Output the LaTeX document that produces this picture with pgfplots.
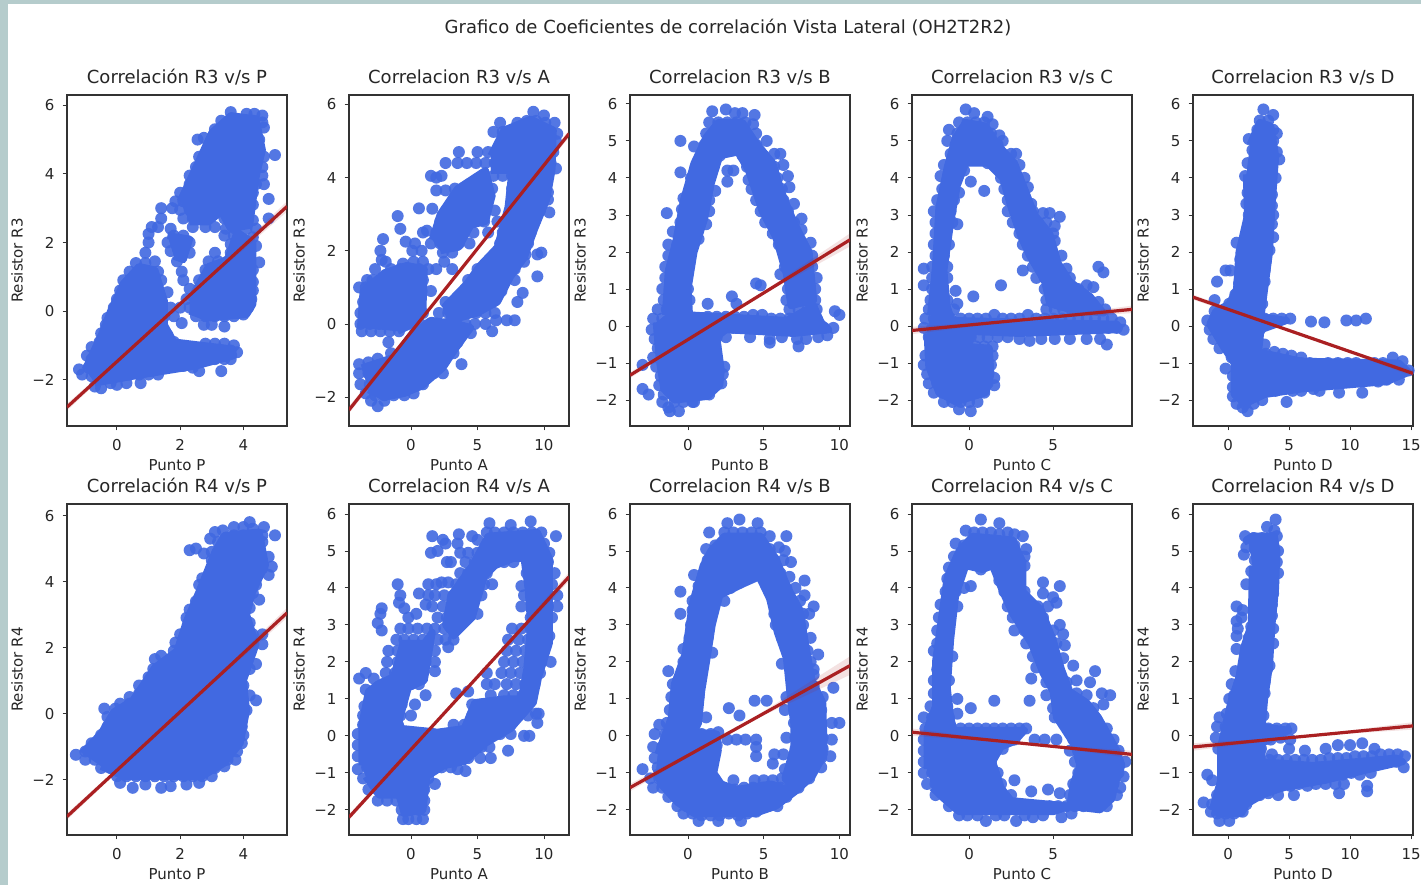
\documentclass[border=0pt]{standalone}
\usepackage{fontspec}
\setmainfont{DejaVu Sans}
\usepackage{pgfplots}
\pgfplotsset{compat=1.18}
\definecolor{royal}{RGB}{65,105,225}
\definecolor{fbrick}{RGB}{170,32,34}
\definecolor{edge}{RGB}{181,204,204}
\definecolor{txt}{RGB}{38,38,38}
\pgfplotsset{
 every axis title shift=0pt,
 every axis/.append style={scale only axis,width=110pt,height=165.5pt,anchor=south west,clip mode=individual,
  axis line style={draw=black!80,line width=0.55pt},
  tick style={draw=black!80,line width=0.45pt},
  major tick length=2.2pt,tick align=outside,xtick pos=bottom,ytick pos=left,
  tick label style={font=\fontsize{7.5}{9}\selectfont,text=txt},
  xticklabel style={yshift=-1pt},yticklabel style={xshift=-0.5pt},
  title style={font=\fontsize{9}{11}\selectfont,text=txt,at={(axis description cs:0.5,1.054)},anchor=center},
  every axis x label/.style={at={(axis description cs:0.5,-0.118)},anchor=center,font=\fontsize{7.5}{9}\selectfont,text=txt},
  every axis y label/.style={at={(axis description cs:-0.227,0.5)},rotate=90,anchor=center,font=\fontsize{7.5}{9}\selectfont,text=txt},
 },
 pts/.style={only marks,color=royal,mark=*,mark size=3pt,mark options={solid,draw=none,draw opacity=0,line width=0pt,fill=royal,fill opacity=0.9}},
 blob/.style={no marks,draw=royal,line width=3.5pt,line join=round,fill=royal},
 fit/.style={no marks,draw=fbrick,line width=1.6pt},
 band/.style={no marks,draw=none,fill=fbrick,fill opacity=0.13},
}
\begin{document}
\begin{tikzpicture}[x=1pt,y=1pt]
\useasboundingbox (0,0) rectangle (710.5,442.5);
\fill[white] (0,0) rectangle (710.5,442.5);
\fill[edge] (0,0) rectangle (4,442.5);
\fill[edge] (0,440.5) rectangle (710.5,442.5);
\node[font=\fontsize{9}{11}\selectfont,text=txt] at (364,429) {Grafico de Coeficientes de correlación Vista Lateral (OH2T2R2)};

% R3 v P
\begin{axis}[at={(33.5pt,229.5pt)},title={Correlación R3 v/s P},xlabel={Punto P},ylabel={Resistor R3},
 xmin=-1.58,xmax=5.38,ymin=-3.35,ymax=6.3,xtick={0,2,4},xticklabels={0,2,4},ytick={-2,0,2,4,6},yticklabels={−2,0,2,4,6}]
\addplot[blob] coordinates {(-1,-1.7)(-.5,-.7)(-.2,0)(.2,.8)(.7,1.3)(1.2,1.2)(1.5,.3)(1.5,-.4)(1.8,-.9)(3.6,-1.1)(3.7,-1.3)(2.5,-1.6)(.5,-1.9)(-.7,-2.1)};
\addplot[blob] coordinates {(2.3,.3)(2.9,1.3)(3.5,1.5)(3.8,2.3)(4.3,2)(4.3,.2)(4.1,-.1)(2.9,-.2)(2.3,0)};
\addplot[blob] coordinates {(2,3.2)(2.6,4.4)(3,5.2)(3.6,5.7)(4.4,5.6)(4.6,4.7)(4.4,3.9)(4.2,2.5)(3.6,2.4)(3.3,2.9)(2.9,2.6)(2.3,2.6)};
\addplot[blob] coordinates {(1.6,2.2)(2.3,2.1)(2.1,1.5)(1.8,1.6)};
\addplot[pts] coordinates {(3.6,5.8)(4.1,5.75)(4.35,5.75)(4.6,5.7)(3.3,5.55)(3.6,5.55)(4,5.55)(4.3,5.55)(4.6,5.5)(3.1,5.3)(3.4,5.3)(3.7,5.3)(4,5.3)(4.3,5.3)(4.65,5.35)(2.55,5)(2.75,5.05)(3,5)(3.3,5)(3.6,5)(3.9,5)(4.2,5)(4.5,5)(3,4.75)(3.3,4.75)(3.6,4.75)(3.9,4.75)(4.2,4.75)(4.5,4.75)(2.6,4.5)(2.9,4.5)(3.2,4.5)(3.5,4.5)(3.8,4.5)(4.1,4.5)(4.4,4.5)(4.65,4.5)(5,4.55)(2.5,4.2)(2.8,4.2)(3.1,4.2)(3.4,4.2)(3.7,4.2)(4,4.2)(4.6,4.2)(2.3,3.95)(2.6,3.95)(2.9,3.95)(3.2,3.95)(3.5,3.95)(3.8,3.95)(4.1,3.9)(4.6,3.95)(2.3,3.7)(2.6,3.7)(2.9,3.7)(3.2,3.7)(3.5,3.7)(3.8,3.7)(4.4,3.7)(4.65,3.7)(2,3.45)(2.3,3.45)(2.6,3.45)(2.9,3.45)(3.15,3.45)(3.65,3.4)(3.95,3.4)(4.3,3.45)(1.85,3.2)(2.1,3.2)(2.4,3.2)(2.7,3.2)(3,3.2)(3.3,3.2)(3.7,3.1)(4,3.1)(4.3,3.1)(4.8,3.27)(1.4,3)(1.75,3)(2,2.95)(2.3,2.95)(2.6,2.95)(2.9,2.95)(3.2,2.95)(3.5,2.9)(3.8,2.9)(4.1,2.85)(1.4,2.7)(2.1,2.7)(2.4,2.7)(2.7,2.7)(3.4,2.7)(3.7,2.7)(4,2.6)(4.3,2.65)(4.8,2.7)(1.1,2.45)(1.3,2.45)(1.7,2.4)(2.4,2.45)(2.8,2.45)(3.1,2.45)(3.45,2.4)(3.75,2.4)(4.1,2.4)(4.4,2.4)(1,2.25)(1.8,2.2)(2.1,2.2)(3.4,2.2)(3.7,2.2)(4.3,2.15)(1,2)(1.6,2)(1.9,2)(2.3,2)(3.6,1.95)(3.9,1.95)(4.4,1.9)(.9,1.7)(1.7,1.75)(2,1.75)(2.3,1.7)(3.1,1.7)(3.6,1.7)(3.9,1.65)(4.2,1.7)(.6,1.4)(.9,1.4)(1.2,1.45)(1.9,1.45)(2.9,1.45)(3.2,1.45)(3.5,1.45)(3.8,1.45)(4.1,1.4)(4.5,1.42)(.4,1.15)(.7,1.15)(1,1.15)(1.3,1.15)(2.05,1.15)(2.8,1.2)(3.1,1.15)(3.4,1.15)(3.7,1.15)(4,1.15)(4.3,1.2)(.2,.9)(.5,.9)(.8,.9)(1.1,.9)(1.4,.9)(2.1,.9)(2.6,.9)(2.9,.9)(3.2,.9)(3.5,.9)(3.8,.9)(4.1,.9)(4.3,.85)(.1,.6)(.4,.6)(.7,.6)(1,.6)(1.3,.6)(1.6,.55)(2.3,.65)(2.6,.6)(2.9,.6)(3.2,.6)(3.5,.6)(3.8,.6)(4.1,.6)(4.3,.6)(0,.35)(.3,.35)(.6,.35)(.9,.35)(1.2,.35)(2.2,.35)(2.5,.35)(2.8,.35)(3.1,.35)(3.4,.35)(3.7,.35)(4,.35)(4.25,.35)(-.1,.1)(.2,.1)(.5,.1)(.8,.1)(1.1,.1)(1.4,.1)(1.7,.1)(2,.1)(2.3,.1)(2.6,.1)(2.9,.1)(3.2,.1)(3.5,.1)(3.8,.1)(4.15,.1)(-.3,-.2)(0,-.15)(.3,-.15)(.6,-.15)(.9,-.15)(1.2,-.15)(1.5,-.15)(1.8,-.15)(2.5,-.15)(2.8,-.15)(3.1,-.15)(3.4,-.15)(3.7,-.15)(4,-.1)(-.35,-.4)(-.1,-.4)(.2,-.4)(.5,-.4)(.8,-.4)(1.1,-.4)(1.4,-.4)(2.05,-.35)(2.75,-.4)(3,-.4)(3.4,-.45)(-.5,-.65)(-.2,-.65)(.1,-.65)(.4,-.65)(.7,-.65)(1,-.65)(1.3,-.65)(1.6,-.7)(-.55,-.9)(-.3,-.9)(0,-.9)(.3,-.9)(.6,-.9)(.9,-.9)(1.2,-.9)(1.5,-.9)(1.8,-.9)(2.8,-.95)(3.1,-.95)(3.4,-.95)(3.7,-1)(-.8,-1.05)(-.95,-1.3)(-.6,-1.15)(-.3,-1.15)(0,-1.15)(.3,-1.15)(.6,-1.15)(.9,-1.15)(1.2,-1.15)(1.5,-1.15)(1.8,-1.15)(2.1,-1.15)(2.4,-1.15)(2.7,-1.15)(3,-1.15)(3.3,-1.15)(3.6,-1.15)(3.8,-1.2)(-.8,-1.4)(-.5,-1.4)(-.2,-1.4)(.1,-1.4)(.4,-1.4)(.7,-1.4)(1,-1.4)(1.3,-1.4)(1.6,-1.4)(1.9,-1.4)(2.2,-1.4)(2.5,-1.4)(2.8,-1.4)(3.1,-1.4)(3.4,-1.4)(3.6,-1.4)(-1.2,-1.7)(-.9,-1.65)(-.6,-1.65)(-.3,-1.65)(0,-1.65)(.3,-1.65)(.6,-1.65)(.9,-1.65)(1.2,-1.65)(1.5,-1.65)(1.8,-1.6)(2.1,-1.6)(2.4,-1.65)(2.6,-1.75)(3.3,-1.75)(-1.1,-1.85)(-.8,-1.9)(-.5,-1.9)(-.2,-1.9)(.1,-1.9)(.4,-1.85)(.7,-1.85)(1,-1.85)(1.3,-1.85)(-.7,-2.2)(-.5,-2.25)(-.2,-2.1)(0,-2.15)(.3,-2.1)(.75,-2.1)};
\addplot[band] coordinates {(-1.58,-2.7)(1.9,.1)(5.38,3.2)(5.38,2.9)(1.9,.1)(-1.58,-2.9)};
\addplot[fit] coordinates {(-1.58,-2.8)(5.38,3.05)};
\end{axis}

% R3 v A
\begin{axis}[at={(174.5pt,229.5pt)},title={Correlacion R3 v/s A},xlabel={Punto A},ylabel={Resistor R3},
 xmin=-4.66,xmax=11.88,ymin=-2.79,ymax=6.26,xtick={0,5,10},xticklabels={0,5,10},ytick={-2,0,2,4,6},yticklabels={−2,0,2,4,6}]
\addplot[blob] coordinates {(-3.8,-.1)(-3.6,.9)(-2,1.4)(-.3,1.6)(1,1.5)(.9,.4)(.2,0)(-1,-.2)};
\addplot[blob] coordinates {(-3.7,-1.2)(-2,-1)(-1.2,-.9)(0,-.3)(1.5,.1)(3.5,0)(4.5,-.1)(3.3,-.7)(2.4,-1.2)(.8,-1.7)(-.5,-1.9)(-2,-2)(-3.2,-1.8)};
\addplot[blob] coordinates {(6,4.6)(7,5.3)(9,5.6)(10.7,5.3)(10.6,4.2)(10.2,3.4)(9.3,2.6)(8.5,1.8)(7.5,1.3)(6.5,.6)(5,.3)(3,.1)(2.6,.5)(4.2,1.1)(5.2,1.6)(6.5,2.1)(7.3,3.2)(7.6,4.2)(6,4.2)};
\addplot[blob] coordinates {(1.6,2.3)(2.2,3)(3.5,3.7)(5.6,4.2)(6.1,3.5)(5.6,2.8)(4.5,2.7)(3.6,2.1)(2.2,2)};
\addplot[pts] coordinates {(9.2,5.8)(10,5.7)(6.7,5.5)(8,5.5)(8.7,5.55)(9.4,5.55)(10.1,5.5)(10.8,5.5)(6.2,5.25)(6.9,5.25)(7.6,5.25)(8.3,5.25)(9,5.25)(9.7,5.25)(10.4,5.25)(11,5.2)(6.8,5)(7.5,5)(8.2,5)(8.9,5)(9.6,5)(10.3,5)(10.9,5)(3.6,4.7)(5,4.7)(5.8,4.7)(6.5,4.7)(7.2,4.7)(7.9,4.7)(8.6,4.7)(9.3,4.7)(10,4.7)(10.7,4.7)(2.6,4.4)(3.5,4.4)(4.2,4.4)(4.9,4.4)(5.6,4.4)(6.3,4.4)(7,4.4)(7.7,4.4)(8.4,4.4)(9.1,4.4)(9.8,4.4)(10.5,4.4)(10.9,4.25)(1.5,4.05)(1.9,4)(2.3,4.05)(5.5,4.05)(6.2,4.05)(6.9,4.05)(7.6,4.05)(8.3,4.05)(9,4.05)(9.7,4.05)(10.3,4.05)(1.9,3.65)(2.6,3.65)(3.3,3.7)(4,3.7)(4.7,3.7)(5.4,3.7)(6.1,3.7)(7.6,3.7)(8.3,3.7)(9,3.7)(9.7,3.7)(10.3,3.6)(3.6,3.4)(4.2,3.4)(5,3.4)(5.7,3.4)(8,3.4)(8.7,3.4)(9.4,3.4)(10.3,3.4)(.6,3.16)(1.6,3.15)(2.8,3.1)(3.5,3.1)(4.2,3.1)(4.9,3.1)(5.6,3.1)(6.3,3.1)(7.6,3.1)(8.3,3.1)(9,3.1)(9.7,3.1)(10.4,3.05)(-1,2.95)(2.2,2.8)(2.9,2.8)(3.6,2.8)(4.3,2.8)(5.5,2.8)(6.5,2.8)(7.2,2.8)(7.9,2.8)(8.6,2.8)(9.3,2.8)(-.8,2.6)(.9,2.5)(1.2,2.55)(1.9,2.5)(2.6,2.5)(3.3,2.5)(4,2.5)(4.7,2.5)(5.8,2.5)(6.9,2.5)(7.6,2.5)(8.3,2.5)(9,2.5)(-2.1,2.32)(-.4,2.25)(.3,2.2)(1.5,2.2)(2.2,2.2)(2.9,2.2)(3.6,2.2)(4.4,2.2)(6.7,2.2)(7.4,2.2)(8.1,2.2)(8.8,2.2)(-2.3,2)(.1,2)(.8,2)(2.4,1.95)(3.1,1.95)(7.2,1.9)(7.9,1.9)(8.6,1.9)(9.5,1.9)(9.8,1.95)(-2.2,1.75)(-1.9,1.7)(-.6,1.65)(.2,1.7)(.9,1.7)(2.5,1.7)(6.3,1.7)(7,1.7)(7.7,1.7)(8.5,1.7)(-2.7,1.5)(-1.5,1.5)(-.8,1.5)(-.1,1.5)(.6,1.5)(1.3,1.5)(1.9,1.5)(3.1,1.5)(5,1.5)(5.7,1.5)(6.4,1.5)(7.1,1.5)(7.8,1.5)(9.5,1.3)(-3.3,1.2)(-2.9,1.2)(-1.9,1.2)(-1.2,1.2)(-.5,1.2)(.2,1.2)(.9,1.2)(4.3,1.2)(5,1.2)(5.7,1.2)(6.4,1.2)(7.1,1.2)(7.8,1.2)(-3.9,1)(-3.4,1)(-2.7,.9)(-2,.9)(-1.3,.9)(-.6,.9)(.1,.9)(.8,.9)(1.5,.9)(4,.9)(4.7,.9)(5.4,.9)(6.1,.9)(6.8,.9)(8.4,.85)(-3.6,.6)(-2.9,.6)(-2.2,.6)(-1.5,.6)(-.8,.6)(-.1,.6)(.6,.6)(2.6,.6)(3.3,.6)(4,.6)(4.7,.6)(5.4,.6)(6.1,.6)(8,.6)(-3.8,.3)(-3.1,.3)(-2.4,.3)(-1.7,.3)(-1,.3)(-.3,.3)(.4,.3)(.9,.3)(2.1,.3)(2.8,.3)(3.5,.3)(4.2,.3)(4.9,.3)(5.6,.3)(6.3,.3)(-3.8,0)(-3.1,0)(-2.4,0)(-1.7,0)(-1,0)(-.3,0)(.7,0)(1.4,0)(2,0)(2.7,0)(3.4,0)(4.1,0)(4.8,0)(5.6,0)(6.4,.1)(7.2,.1)(7.8,.1)(-3.7,-.2)(-3,-.2)(-2.3,-.2)(-1.6,-.2)(-.9,-.2)(.3,-.25)(1,-.25)(1.7,-.25)(2.4,-.25)(3.1,-.25)(3.8,-.25)(4.5,-.25)(6.1,-.2)(-1.7,-.5)(0,-.5)(.7,-.5)(1.4,-.5)(2.1,-.5)(2.8,-.5)(3.5,-.5)(-1.5,-.8)(-.8,-.8)(-.1,-.8)(.6,-.8)(1.3,-.8)(2,-.8)(2.7,-.8)(3.2,-.8)(-3.9,-1.1)(-3.2,-1.05)(-2.5,-.95)(-1.8,-1.05)(-1.1,-1.05)(-.4,-1.05)(.3,-1.05)(1,-1.05)(1.7,-1.05)(2.4,-1.05)(3.8,-1.1)(-3.9,-1.35)(-3.2,-1.35)(-2.5,-1.35)(-1.8,-1.35)(-1.1,-1.35)(-.4,-1.35)(.3,-1.35)(1,-1.35)(1.7,-1.35)(2.4,-1.35)(-3.8,-1.65)(-3.1,-1.65)(-2.4,-1.65)(-1.7,-1.65)(-1,-1.65)(-.3,-1.65)(.4,-1.65)(.9,-1.65)(-3.4,-1.9)(-2.7,-1.95)(-2,-1.95)(-1.3,-1.95)(-.5,-1.95)(.2,-1.9)(-2.5,-2.25)(-3,-2.1)(-2,-2.1)};
\addplot[band] coordinates {(-4.66,-2.25)(3.6,1.42)(11.88,5.3)(11.88,5.1)(3.6,1.42)(-4.66,-2.45)};
\addplot[fit] coordinates {(-4.66,-2.35)(11.88,5.2)};
\end{axis}

% R3 v B
\begin{axis}[at={(315pt,229.5pt)},title={Correlacion R3 v/s B},xlabel={Punto B},ylabel={Resistor R3},
 xmin=-3.83,xmax=10.7,ymin=-2.7,ymax=6.24,xtick={0,5,10},xticklabels={0,5,10},ytick={-2,-1,0,1,2,3,4,5,6},yticklabels={−2,−1,0,1,2,3,4,5,6}]
\addplot[blob] coordinates {(-1.5,.3)(-1.3,1.5)(-.8,2.3)(-.3,3.4)(.4,4.4)(1.2,5.1)(2,5.5)(3.6,5.5)(4.4,5)(5.6,4.4)(6.2,3.6)(7,2.8)(8,2)(8.3,.7)(6.8,.55)(6.5,1.4)(5.8,2.4)(4.9,3.1)(4,4.2)(3.3,4.7)(2.1,4.6)(1.5,3.8)(1.1,2.9)(.4,2)(0,1)(.1,.3)(6.5,.15)(8.3,.55)(8.8,.1)(9.3,-.1)(7,-.2)(2.5,-.1)(1.9,-.3)(2.2,-1.2)(2.1,-1.6)(1.3,-1.9)(-.9,-2)(-1.6,-1.7)(-1.9,-.9)(-2.1,.1)};
\addplot[pts] coordinates {(1.6,5.8)(2.5,5.85)(3.1,5.75)(3.6,5.75)(4.4,5.7)(1.4,5.5)(2,5.5)(2.6,5.5)(3.2,5.5)(3.8,5.5)(4.3,5.45)(1.2,5.2)(1.8,5.2)(2.4,5.2)(3,5.2)(3.6,5.2)(4.5,5.2)(-.5,5)(.4,4.85)(1.1,4.9)(1.7,4.9)(2.3,4.9)(2.9,4.9)(3.5,4.9)(4.5,4.9)(5.2,5)(.9,4.6)(1.5,4.6)(2.1,4.6)(3.6,4.6)(4.3,4.6)(5,4.6)(5.7,4.65)(6.1,4.65)(.5,4.3)(1.1,4.3)(1.7,4.3)(2.6,4.2)(3,4.2)(3.9,4.3)(4.5,4.3)(5.1,4.3)(5.7,4.3)(6.3,4.35)(-.5,4.15)(.2,4)(.8,4)(1.4,4)(2.6,3.9)(4,3.95)(4.6,3.95)(5.3,4)(5.9,4)(6.6,4.05)(.1,3.7)(.7,3.7)(1.3,3.7)(1.8,3.65)(4.2,3.7)(5,3.7)(5.6,3.7)(6.2,3.7)(6.7,3.75)(-.3,3.45)(.3,3.4)(.9,3.4)(1.4,3.4)(4.5,3.4)(5.1,3.4)(5.7,3.4)(6.3,3.4)(7,3.3)(-.4,3.15)(.2,3.1)(.8,3.1)(1.4,3.1)(4.8,3.1)(5.4,3.1)(6,3.1)(6.6,3.1)(-1.4,3.05)(-.5,2.8)(.1,2.8)(.8,2.8)(1.2,2.75)(5.1,2.8)(5.7,2.8)(6.3,2.8)(7,2.8)(7.5,2.9)(-1,2.55)(-.4,2.5)(.2,2.5)(.7,2.35)(5.6,2.5)(6.2,2.5)(6.8,2.5)(7.5,2.6)(-1.3,2.2)(-.7,2.2)(-.1,2.2)(6,2.2)(6.6,2.2)(7.3,2.2)(8.1,2.25)(-1.3,1.9)(-.7,1.9)(-.1,1.9)(6.4,1.9)(7,1.9)(7.6,1.9)(8.2,1.9)(-1.5,1.6)(-.9,1.6)(-.3,1.6)(6.4,1.6)(7,1.6)(7.6,1.6)(8.2,1.6)(-1.5,1.3)(-.9,1.3)(-.2,1.3)(6.1,1.4)(6.8,1.3)(7.4,1.3)(8,1.3)(8.5,1.3)(-1.7,1)(-1.2,1)(-.6,1)(0,1)(4.5,1.15)(4.8,1.1)(6.6,1)(7.2,1)(7.8,1)(8.4,1)(-1.6,.7)(-1,.7)(-.4,.7)(.1,.7)(2.9,.8)(6.5,.7)(7.1,.7)(7.7,.7)(8.4,.7)(-2,.45)(-1.4,.45)(-.8,.45)(-.2,.45)(1.3,.6)(3.2,.6)(6.7,.45)(7.3,.45)(7.9,.45)(8.5,.45)(9.7,.4)(-2.3,.2)(-1.7,.2)(-1.1,.2)(-.5,.2)(.1,.2)(.7,.2)(1.3,.25)(1.9,.25)(2.5,.25)(3.1,.25)(3.7,.25)(4.3,.3)(4.9,.3)(5.5,.2)(6.1,.2)(6.7,.2)(7.3,.2)(7.9,.2)(8.5,.2)(10,.3)(-2.4,-.1)(-1.8,-.05)(-1.2,-.05)(-.6,-.05)(0,-.05)(1.5,-.05)(2.4,-.05)(3,-.05)(3.6,-.05)(4.2,-.05)(4.8,-.05)(5.4,-.05)(6,-.05)(6.6,-.05)(7.2,-.05)(7.8,-.05)(8.4,-.05)(9,-.05)(9.6,-.05)(-2.2,-.35)(-1.6,-.35)(-1,-.35)(-.4,-.35)(.2,-.35)(1.3,-.35)(1.9,-.3)(2.5,-.3)(4.1,-.3)(5.4,-.35)(6.2,-.3)(7.2,-.35)(7.8,-.35)(8.6,-.3)(9.2,-.25)(-2,-.6)(-1.4,-.6)(-.8,-.6)(-.2,-.6)(.4,-.6)(1,-.6)(1.8,-.55)(5.4,-.45)(7.3,-.55)(-2.3,-.85)(-1.7,-.85)(-1.1,-.85)(-.5,-.85)(.1,-.85)(.7,-.85)(1.3,-.85)(1.9,-.85)(-3,-1.05)(-2.1,-1.1)(-1.5,-1.1)(-.9,-1.1)(-.3,-1.1)(.3,-1.1)(.9,-1.1)(1.5,-1.1)(2.4,-1.1)(-1.8,-1.35)(-1.2,-1.35)(-.6,-1.35)(0,-1.35)(.6,-1.35)(1.2,-1.35)(1.8,-1.35)(2.3,-1.3)(-3,-1.7)(-1.9,-1.6)(-1.3,-1.6)(-.7,-1.6)(-.1,-1.6)(.5,-1.6)(1.1,-1.6)(1.7,-1.6)(2.2,-1.55)(-2.6,-1.85)(-1.6,-1.85)(-1,-1.85)(-.4,-1.85)(.2,-1.85)(.8,-1.85)(1.4,-1.85)(-1.7,-2.05)(-1.3,-2.2)(-.9,-2.05)(-.3,-2.05)(.3,-2.05)(-1.2,-2.3)(-.6,-2.3)(.4,-2.05)};
\addplot[band] coordinates {(-3.83,-1.25)(3.4,.5)(10.7,2.5)(10.7,2.15)(3.4,.5)(-3.83,-1.41)};
\addplot[fit] coordinates {(-3.83,-1.33)(10.7,2.33)};
\end{axis}

% R3 v C
\begin{axis}[at={(456pt,229.5pt)},title={Correlacion R3 v/s C},xlabel={Punto C},ylabel={Resistor R3},
 xmin=-3.4,xmax=9.7,ymin=-2.7,ymax=6.24,xtick={0,5},xticklabels={0,5},ytick={-2,-1,0,1,2,3,4,5,6},yticklabels={−2,−1,0,1,2,3,4,5,6}]
\addplot[blob] coordinates {(-2.3,.3)(-2,1.6)(-1.8,3.2)(-1.3,4.3)(-.8,5.1)(-.2,5.5)(1,5.4)(1.7,4.9)(2.7,4.4)(3.4,3.6)(3.9,3)(4.8,2.5)(5.3,1.7)(6,1.2)(7.2,.8)(8,.35)(6,.45)(4.8,.6)(4.5,1.2)(3.6,1.9)(3.1,2.4)(2.5,3.2)(2,4)(1.1,4.4)(-.2,4.4)(-.7,3.8)(-1.1,2.8)(-1.5,1.5)(-1.3,.5)(-1,.15)(8.8,.05)(8.8,-.1)(3,-.2)(.3,-.15)(-.1,-.55)(1.2,-.6)(1.3,-1.3)(1,-1.8)(-.8,-2.05)(-1.8,-1.8)(-2.4,-1.1)(-2.5,-.2)};
\addplot[pts] coordinates {(-.2,5.85)(.3,5.75)(1.1,5.65)(-.6,5.5)(-.1,5.5)(.4,5.5)(.9,5.5)(1.4,5.45)(-1.2,5.3)(-.7,5.2)(-.2,5.2)(.3,5.2)(.8,5.2)(1.3,5.2)(1.8,5.15)(-1.3,5)(-.8,4.9)(-.3,4.9)(.2,4.9)(.7,4.9)(1.2,4.9)(1.7,4.9)(2,5)(-1.1,4.65)(-.6,4.6)(-.2,4.65)(1,4.6)(1.5,4.6)(2,4.6)(2.5,4.65)(2.8,4.65)(-1.5,4.35)(-1,4.3)(-.5,4.3)(1.1,4.4)(1.6,4.3)(2.1,4.3)(2.6,4.3)(3,4.35)(-1.7,4.05)(-1.2,4)(-.7,4)(-.3,4.2)(.1,3.9)(1.9,4)(2.4,4)(2.9,4)(3.3,4)(-1.6,3.7)(-1.1,3.7)(-.6,3.6)(.9,3.65)(2.1,3.7)(2.6,3.7)(3.1,3.7)(3.5,3.75)(-1.9,3.4)(-1.4,3.4)(-.9,3.4)(2.3,3.4)(2.8,3.4)(3.3,3.4)(3.7,3.3)(-2.1,3.1)(-1.6,3.1)(-1.1,3.1)(2.3,3.1)(2.8,3.1)(3.3,3.1)(3.8,3.1)(4.4,3.05)(4.8,3.05)(5.4,2.95)(-2,2.8)(-1.5,2.8)(-1,2.8)(-.7,2.75)(2.6,2.8)(3.1,2.8)(3.6,2.8)(4.1,2.8)(4.6,2.8)(5.1,2.7)(-2,2.5)(-1.5,2.5)(3,2.5)(3.5,2.5)(4,2.5)(4.5,2.5)(5,2.5)(-2.1,2.2)(-1.6,2.2)(-1.2,2.2)(3.2,2.2)(3.7,2.2)(4.2,2.2)(4.7,2.2)(5.1,2.3)(-2,1.9)(-1.5,1.9)(3.5,1.9)(4,1.9)(4.5,1.9)(5,1.9)(5.5,1.9)(-2.7,1.55)(-2.2,1.6)(-1.7,1.6)(-1.3,1.6)(3.2,1.5)(3.8,1.6)(4.3,1.6)(4.8,1.55)(5.3,1.5)(5.8,1.55)(7.7,1.6)(8,1.45)(-2.7,1.1)(-2.2,1.3)(-1.7,1.3)(-1.3,1.3)(4,1.3)(4.5,1.3)(5,1.3)(5.5,1.3)(6,1.3)(-2.2,1)(-1.7,1)(1.9,1.1)(-.8,.95)(4.5,1)(5,1)(5.5,1)(6,1)(6.5,1)(7,1.1)(7.4,1.05)(-2.3,.7)(-1.8,.7)(-1.3,.7)(-.7,.6)(.25,.8)(4.6,.7)(5.1,.7)(5.6,.7)(6.1,.7)(6.6,.7)(7.1,.7)(7.7,.65)(-2.4,.45)(-1.9,.45)(-1.4,.45)(-.9,.45)(4.6,.45)(5.1,.45)(5.6,.45)(6.1,.45)(6.6,.45)(7.1,.45)(7.6,.45)(8.1,.45)(-2.6,.2)(-2.1,.2)(-1.6,.2)(-1.1,.2)(-.5,.2)(0,.2)(.5,.2)(1,.2)(1.5,.3)(2,.2)(2.5,.2)(3,.2)(3.5,.3)(4,.2)(4.5,.2)(5,.2)(5.5,.2)(6,.2)(6.5,.2)(7,.2)(7.5,.2)(8,.2)(8.5,.2)(9,.1)(-2.7,-.05)(-2.2,-.05)(-1.7,-.05)(-1.2,-.05)(.3,-.05)(.8,-.05)(1.3,-.05)(1.8,-.05)(2.3,-.05)(2.8,-.05)(3.3,-.05)(3.8,-.05)(4.3,-.05)(4.8,-.05)(5.3,-.05)(5.8,-.05)(6.3,-.05)(6.8,-.05)(7.3,-.05)(7.8,-.05)(8.3,-.05)(8.8,-.05)(9.2,-.1)(-2.4,-.3)(-1.9,-.3)(-1.4,-.3)(.1,-.3)(.6,-.3)(1.1,-.3)(1.7,-.3)(2.3,-.3)(3,-.35)(3.6,-.4)(4.3,-.35)(5.1,-.35)(6,-.35)(7,-.35)(7.8,-.35)(8.2,-.5)(-2.2,-.55)(-1.7,-.55)(-1.3,-.55)(-.1,-.55)(.4,-.55)(.9,-.55)(1.4,-.55)(-2.6,-.8)(-2.1,-.8)(-1.6,-.8)(-1.1,-.8)(-.6,-.8)(-.1,-.8)(.4,-.8)(.9,-.8)(1.4,-.8)(-2.7,-1.05)(-2.2,-1.05)(-1.7,-1.05)(-1.2,-1.05)(-.7,-1.05)(-.2,-1.05)(.3,-1.05)(.8,-1.05)(1.3,-1.05)(-2.5,-1.3)(-2,-1.3)(-1.5,-1.3)(-1,-1.3)(-.5,-1.3)(0,-1.3)(.5,-1.3)(1,-1.3)(1.5,-1.4)(-2.4,-1.55)(-1.9,-1.55)(-1.4,-1.55)(-.9,-1.55)(-.4,-1.55)(.1,-1.55)(.6,-1.55)(1.1,-1.55)(1.5,-1.6)(-2.1,-1.8)(-1.6,-1.8)(-1.1,-1.8)(-.6,-1.8)(-.1,-1.8)(.4,-1.8)(.9,-1.8)(-1.5,-2.05)(-1,-2.05)(-.5,-2.05)(0,-2.05)(.5,-2.05)(-.6,-2.25)(.1,-2.3)};
\addplot[band] coordinates {(-3.4,-.02)(3.1,.16)(9.7,.55)(9.7,.35)(3.1,.16)(-3.4,-.22)};
\addplot[fit] coordinates {(-3.4,-.12)(9.7,.45)};
\end{axis}

% R3 v D
\begin{axis}[at={(596.5pt,229.5pt)},title={Correlacion R3 v/s D},xlabel={Punto D},ylabel={Resistor R3},
 xmin=-2.87,xmax=15.16,ymin=-2.7,ymax=6.24,xtick={0,5,10,15},xticklabels={0,5,10,15},ytick={-2,-1,0,1,2,3,4,5,6},yticklabels={−2,−1,0,1,2,3,4,5,6}]
\addplot[blob] coordinates {(1.8,4.9)(2.6,5.5)(3.5,5.4)(3.9,4.6)(3.6,3.2)(3.4,2)(3,1)(2.7,.25)(4.8,.15)(2.7,-.1)(2.5,-.7)(6,-.95)(14,-1)(14.8,-1.25)(13,-1.5)(6,-1.7)(3,-1.85)(1.4,-2.1)(.5,-1.85)(.5,-1)(-.5,-.5)(-1.5,.05)(-1,.4)(.1,.6)(.7,1)(.9,2)(1.6,3)(1.5,4.1)};
\addplot[pts] coordinates {(2.9,5.85)(2.6,5.55)(3.3,5.55)(3.7,5.7)(2.4,5.3)(3.1,5.3)(3.7,5.3)(1.7,5.05)(2.3,5)(3,5)(3.7,5)(4,5.2)(2,4.75)(2.7,4.75)(3.4,4.75)(4,4.7)(1.6,4.4)(2.3,4.45)(3,4.45)(3.7,4.45)(4.2,4.5)(1.4,4.05)(2.1,4.15)(2.8,4.15)(3.5,4.15)(2.1,3.85)(2.8,3.85)(3.5,3.85)(3.9,4)(1.6,3.6)(2.3,3.55)(3,3.55)(3.6,3.55)(1.5,3.3)(2.2,3.25)(2.9,3.25)(3.6,3.25)(1.7,3)(2.4,2.95)(3.1,2.95)(3.7,3)(1.7,2.65)(2.4,2.65)(3.1,2.65)(3.6,2.75)(1.6,2.35)(2.3,2.35)(3,2.35)(3.7,2.4)(.7,2.25)(1.4,2.1)(2.1,2.05)(2.8,2.05)(3.4,2.05)(1,1.8)(1.7,1.75)(2.4,1.75)(3.1,1.75)(.2,1.5)(-.2,1.5)(1,1.45)(1.7,1.45)(2.4,1.45)(3,1.5)(-.9,1.2)(.9,1.15)(1.6,1.15)(2.3,1.15)(3,1.2)(.6,.85)(1.3,.85)(2,.85)(2.7,.85)(-1.1,.7)(.1,.6)(.8,.6)(1.5,.6)(2.2,.6)(2.8,.6)(-1.1,.4)(-.4,.35)(.3,.35)(1,.35)(1.7,.35)(2.4,.35)(-1.7,.15)(-1,.15)(-.3,.15)(.4,.15)(1.1,.15)(1.8,.15)(2.5,.15)(3,.2)(3.7,.2)(4.4,.2)(5.1,.2)(6.8,.12)(7.9,.1)(9.7,.15)(10.5,.15)(11.3,.2)(-1.5,-.1)(-.8,-.1)(-.1,-.1)(.6,-.1)(1.3,-.1)(2,-.1)(2.6,-.1)(-1.2,-.35)(-.5,-.35)(.2,-.35)(.9,-.35)(1.6,-.35)(2.4,-.35)(-.7,-.6)(0,-.6)(.7,-.6)(1.4,-.6)(2.2,-.55)(3,-.5)(.3,-.85)(1,-.85)(1.7,-.85)(2.4,-.85)(3.1,-.75)(3.8,-.7)(4.5,-.75)(5.2,-.8)(6,-.85)(-.2,-1.15)(.9,-1.1)(1.6,-1.1)(2.5,-1.05)(3.2,-1)(3.9,-1)(4.6,-1)(5.3,-1)(6,-1)(6.7,-1)(7.5,-1.05)(8.2,-1)(9,-1)(9.8,-1)(10.5,-1)(11.2,-1.05)(12,-1)(12.7,-1)(13.5,-.85)(14.3,-.95)(.4,-1.35)(1.1,-1.35)(1.8,-1.35)(3,-1.3)(3.7,-1.25)(4.4,-1.25)(5.1,-1.25)(5.8,-1.25)(6.5,-1.25)(7.2,-1.25)(7.9,-1.25)(8.6,-1.25)(9.3,-1.25)(10,-1.25)(10.7,-1.25)(11.4,-1.25)(12.1,-1.25)(12.8,-1.25)(13.5,-1.2)(14.2,-1.25)(14.8,-1.2)(.4,-1.65)(1.1,-1.6)(1.8,-1.6)(2.5,-1.6)(3.2,-1.55)(3.9,-1.5)(4.6,-1.5)(5.3,-1.5)(6,-1.5)(6.7,-1.45)(7.4,-1.45)(8.1,-1.45)(8.8,-1.45)(9.5,-1.45)(10.2,-1.45)(10.9,-1.4)(11.6,-1.45)(12.3,-1.5)(13,-1.45)(14,-1.45)(.4,-1.9)(1.1,-1.85)(1.8,-1.85)(2.5,-1.85)(3.2,-1.75)(3.9,-1.75)(4.6,-1.7)(5.3,-1.75)(6,-1.75)(7,-1.7)(7.5,-1.75)(9.1,-1.8)(11,-1.8)(.7,-2.1)(1.4,-2.1)(2.1,-2.1)(2.8,-2)(4.8,-2.05)(1.6,-2.3)(1.2,-2.2)};
\addplot[band] coordinates {(-2.87,.85)(6,-.25)(15.16,-1.2)(15.16,-1.36)(6,-.25)(-2.87,.71)};
\addplot[fit] coordinates {(-2.87,.78)(15.16,-1.28)};
\end{axis}

% R4 v P
\begin{axis}[at={(33.5pt,25pt)},title={Correlación R4 v/s P},xlabel={Punto P},ylabel={Resistor R4},
 xmin=-1.58,xmax=5.38,ymin=-3.68,ymax=6.35,xtick={0,2,4},xticklabels={0,2,4},ytick={-2,0,2,4,6},yticklabels={−2,0,2,4,6}]
\addplot[blob] coordinates {(-1.1,-1.2)(-.5,-.6)(-.1,.05)(.5,.4)(1.2,1.4)(1.9,1.9)(2.2,2.8)(2.6,3.7)(3.1,4.9)(3.4,5.4)(4.5,5.5)(4.7,4.5)(4.3,3.7)(4.1,3)(4.4,2.1)(4,1)(4.1,.1)(3.9,-.9)(3.4,-1.5)(2.7,-1.9)(.2,-1.9)(-.5,-1.6)};
\addplot[pts] coordinates {(4.2,5.8)(3.7,5.65)(4,5.65)(4.3,5.6)(4.65,5.65)(3.1,5.5)(3.35,5.55)(3.7,5.4)(4,5.4)(4.3,5.4)(4.6,5.4)(5,5.4)(2.95,5.3)(3.2,5.2)(3.5,5.15)(3.8,5.15)(4.1,5.15)(4.4,5.15)(4.6,5.2)(2.3,4.95)(2.5,5)(2.75,4.85)(3,4.9)(3.3,4.9)(3.6,4.9)(3.9,4.9)(4.2,4.9)(4.5,4.85)(3,4.65)(3.3,4.65)(3.6,4.65)(3.9,4.65)(4.2,4.65)(4.5,4.65)(4.8,4.75)(3.1,4.4)(3.4,4.4)(3.7,4.4)(4,4.4)(4.3,4.4)(4.6,4.4)(4.9,4.45)(3,4.15)(3.3,4.15)(3.6,4.15)(3.9,4.15)(4.2,4.15)(4.8,4.2)(2.7,4.1)(2.6,3.9)(3.2,3.9)(3.5,3.9)(3.8,3.9)(4.1,3.9)(4.4,3.9)(2.8,3.65)(3.1,3.65)(3.4,3.65)(3.7,3.65)(4,3.65)(4.3,3.65)(2.5,3.4)(2.8,3.4)(3.1,3.4)(3.4,3.4)(3.7,3.4)(4,3.4)(4.5,3.45)(2.3,3.15)(2.6,3.15)(2.9,3.15)(3.2,3.15)(3.5,3.15)(3.8,3.15)(4.2,3.2)(2.2,2.9)(2.5,2.9)(2.8,2.9)(3.1,2.9)(3.4,2.9)(3.7,2.9)(4,2.9)(2.4,2.65)(2.7,2.65)(3,2.65)(3.3,2.65)(3.6,2.65)(3.9,2.55)(4.2,2.75)(2,2.4)(2.3,2.4)(2.6,2.4)(2.9,2.4)(3.2,2.4)(3.5,2.4)(4.3,2.4)(4.6,2.4)(1.85,2.15)(2.2,2.15)(2.5,2.15)(2.8,2.15)(3.1,2.15)(3.4,2.15)(3.7,2.15)(4,2.15)(4.3,2.15)(4.6,2.1)(1.8,1.9)(2.1,1.9)(2.4,1.9)(2.7,1.9)(3,1.9)(3.3,1.9)(3.6,1.9)(3.9,1.9)(4.2,1.9)(1.2,1.65)(1.4,1.75)(2,1.65)(2.3,1.65)(2.6,1.65)(2.9,1.65)(3.2,1.65)(3.5,1.65)(3.8,1.65)(4.1,1.65)(4.4,1.5)(1.15,1.35)(1.45,1.35)(2.35,1.35)(2.65,1.4)(3.3,1.4)(3.6,1.4)(3.9,1.4)(4.2,1.35)(1,1.1)(1.3,1.1)(1.6,1.1)(1.9,1.1)(2.5,1.1)(3,1.1)(3.3,1.1)(3.6,1.1)(3.9,1.1)(.7,.85)(1,.85)(1.3,.85)(1.6,.85)(1.9,.85)(2.2,.85)(3.1,.85)(3.4,.85)(3.7,.85)(4,.85)(.4,.5)(.7,.6)(1,.6)(1.3,.6)(1.6,.6)(1.9,.6)(2.2,.6)(2.5,.65)(2.95,.6)(3.3,.6)(3.6,.6)(3.9,.6)(4.2,.55)(.1,.3)(.4,.3)(.7,.3)(1,.35)(1.3,.35)(1.6,.35)(1.9,.35)(2.2,.35)(3,.35)(3.3,.35)(3.6,.35)(3.9,.35)(4.4,.4)(-.4,.15)(-.05,.15)(.2,.1)(.5,.1)(.8,.1)(1.1,.1)(1.4,.1)(1.7,.1)(2,.1)(2.3,.1)(2.6,.1)(2.9,.1)(3.2,.1)(3.5,.1)(3.8,.1)(4.1,.1)(-.3,-.1)(0,-.1)(.3,-.15)(.6,-.15)(.9,-.15)(1.2,-.15)(1.5,-.15)(1.8,-.15)(2.1,-.15)(2.4,-.15)(2.7,-.15)(3,-.15)(3.3,-.15)(3.6,-.15)(3.9,-.15)(-.3,-.4)(0,-.4)(.3,-.4)(.6,-.4)(.9,-.4)(1.2,-.4)(1.5,-.4)(1.8,-.4)(2.1,-.4)(2.4,-.4)(2.7,-.4)(3,-.4)(3.3,-.4)(3.6,-.4)(3.95,-.4)(-.5,-.65)(-.2,-.65)(.1,-.65)(.4,-.65)(.7,-.65)(1,-.65)(1.3,-.65)(1.6,-.65)(1.9,-.65)(2.2,-.65)(2.5,-.65)(2.8,-.65)(3.1,-.65)(3.4,-.65)(3.7,-.65)(4,-.65)(-.8,-.9)(-.5,-.9)(-.2,-.9)(.1,-.9)(.4,-.9)(.7,-.9)(1,-.9)(1.3,-.9)(1.6,-.9)(1.9,-.9)(2.2,-.9)(2.5,-.9)(2.8,-.9)(3.1,-.9)(3.4,-.9)(3.7,-.9)(3.95,-.9)(-1.3,-1.25)(-1,-1.15)(-.7,-1.15)(-.4,-1.15)(-.1,-1.15)(.2,-1.15)(.5,-1.15)(.8,-1.15)(1.1,-1.15)(1.4,-1.15)(1.7,-1.15)(2,-1.15)(2.3,-1.15)(2.6,-1.15)(2.9,-1.15)(3.2,-1.15)(3.5,-1.15)(3.8,-1.15)(-1,-1.4)(-.7,-1.4)(-.4,-1.4)(-.1,-1.4)(.2,-1.4)(.5,-1.4)(.8,-1.4)(1.1,-1.4)(1.4,-1.4)(1.7,-1.4)(2,-1.4)(2.3,-1.4)(2.6,-1.4)(2.9,-1.4)(3.2,-1.4)(3.5,-1.4)(3.75,-1.4)(-.5,-1.65)(-.2,-1.65)(.1,-1.65)(.4,-1.65)(.7,-1.65)(1,-1.65)(1.3,-1.65)(1.6,-1.65)(1.9,-1.65)(2.2,-1.65)(2.5,-1.65)(2.8,-1.65)(3.1,-1.65)(3.4,-1.6)(0,-1.9)(.3,-1.9)(.6,-1.9)(.9,-1.9)(1.2,-1.9)(1.5,-1.9)(1.8,-1.9)(2.1,-1.9)(2.4,-1.9)(2.7,-1.9)(3,-1.9)(.1,-2.1)(.5,-2.25)(.9,-2.15)(1.4,-2.25)(1.7,-2.2)(2.2,-2.15)(2.6,-2.1)};
\addplot[band] coordinates {(-1.58,-3.02)(1.9,-.05)(5.38,3.2)(5.38,2.9)(1.9,-.05)(-1.58,-3.22)};
\addplot[fit] coordinates {(-1.58,-3.12)(5.38,3.05)};
\end{axis}

% R4 v A
\begin{axis}[at={(174.5pt,25pt)},title={Correlacion R4 v/s A},xlabel={Punto A},ylabel={Resistor R4},
 xmin=-4.66,xmax=11.88,ymin=-2.68,ymax=6.27,xtick={0,5,10},xticklabels={0,5,10},ytick={-2,-1,0,1,2,3,4,5,6},yticklabels={−2,−1,0,1,2,3,4,5,6}]
\addplot[blob] coordinates {(-3.7,-.8)(-3.7,.3)(-3.2,1.2)(-2.5,1.4)(-1.3,1.6)(-.6,2.5)(1,2.5)(1.6,2.8)(1,1.5)(-.2,1.3)(-.9,.4)(-.7,.2)(2,.1)(4,.2)(4.8,.9)(7,1)(8.3,1)(8.7,1.8)(9,3)(8.8,4)(8.5,4.8)(7.7,4.8)(6.3,4.6)(5.5,4.3)(4.6,3.2)(3.2,2.7)(2.6,3)(3,3.8)(4.6,4.6)(5.8,5.4)(9.5,5.5)(10.4,4.8)(10.4,3.8)(10.4,2.5)(9.6,1.6)(9.2,.9)(7.5,.2)(5.6,-.2)(4,-.7)(2.5,-.8)(1.2,-1.1)(.9,-2)(-.5,-2.1)(-.9,-1.6)(-2.4,-1.6)(-3.4,-1.1)};
\addplot[pts] coordinates {(5.9,5.75)(7.5,5.7)(9,5.8)(5.7,5.5)(6.3,5.5)(7,5.5)(7.7,5.5)(8.4,5.5)(9.1,5.5)(9.8,5.5)(1.6,5.4)(3.6,5.45)(4.6,5.4)(5,5.3)(10.9,5.4)(2.4,5.3)(2.6,5.2)(3.5,5.2)(5.8,5.2)(6.5,5.2)(7.2,5.2)(7.9,5.2)(8.6,5.2)(9.3,5.2)(10,5.2)(1.5,4.95)(2,5)(3.7,4.95)(4.3,4.95)(5,4.95)(6,4.95)(6.7,4.95)(7.4,4.95)(8.1,4.95)(9,4.95)(9.7,4.95)(10.4,4.95)(2.7,4.7)(3,4.7)(4.1,4.7)(4.8,4.7)(5.5,4.7)(7,4.7)(7.7,4.7)(8.9,4.7)(9.6,4.7)(10.3,4.7)(3.7,4.4)(4.3,4.4)(5,4.4)(5.7,4.4)(8.7,4.4)(9.4,4.4)(10.1,4.4)(10.8,4.4)(-1,4.1)(1.3,4.1)(1.9,4.1)(2.3,4.15)(2.8,4.15)(3.4,4.1)(4.1,4.1)(4.8,4.1)(5.5,4.1)(6.1,4.1)(8.3,4.05)(9,4.05)(10,4.1)(10.6,4.1)(-.8,3.8)(.6,3.85)(1.3,3.8)(1.8,3.8)(2.5,3.8)(3.2,3.8)(3.9,3.8)(4.6,3.8)(5.3,3.8)(8.5,3.8)(9.5,3.8)(10.2,3.8)(11,3.8)(-2.2,3.45)(-.9,3.6)(-.5,3.45)(1.1,3.55)(1.6,3.5)(2.4,3.5)(3.1,3.5)(3.8,3.5)(4.5,3.5)(8.3,3.5)(9.6,3.5)(10.3,3.5)(11,3.5)(-2.3,3.3)(-.2,3.2)(.4,3.3)(2,3.2)(2.7,3.2)(3.4,3.2)(4.2,3.2)(5,3.3)(9,3.2)(9.9,3.2)(10.6,3.2)(-2.5,3.05)(-2.2,2.85)(-.8,2.9)(-.2,2.9)(.5,2.9)(1.2,2.9)(1.8,2.9)(2.5,2.9)(3.2,2.9)(7.6,2.9)(8.3,2.9)(9,2.9)(9.7,2.9)(-1.1,2.6)(-.5,2.6)(.2,2.6)(.9,2.6)(2,2.6)(2.6,2.6)(3.2,2.6)(7.3,2.6)(8.1,2.6)(8.8,2.6)(9.5,2.6)(10.4,2.7)(-1.7,2.3)(-1,2.3)(-.3,2.3)(.4,2.3)(1.1,2.3)(1.8,2.3)(2.8,2.4)(7.2,2.3)(7.9,2.3)(8.6,2.3)(9.3,2.3)(10,2.3)(-1.8,2)(-1,2)(-.3,2)(.4,2)(1.1,2)(1.8,2)(7,2)(7.7,2)(8.4,2)(9.1,2)(9.8,2)(10.5,2)(-1.9,1.7)(-1.2,1.7)(-.5,1.7)(.2,1.7)(.9,1.7)(1.8,1.75)(5.7,1.7)(6.8,1.7)(7.5,1.7)(8.2,1.7)(9,1.7)(9.7,1.7)(-3.9,1.55)(-3.4,1.7)(-2.8,1.55)(-2.1,1.4)(-1.4,1.4)(-.7,1.4)(0,1.4)(.6,1.4)(5.7,1.4)(6.3,1.4)(7.2,1.4)(7.9,1.4)(8.6,1.4)(9.3,1.4)(-3.4,1.25)(-2.7,1.1)(-2,1.1)(-1.3,1.1)(-.6,1.1)(1.1,1.1)(3.4,1.15)(4.3,1.2)(6,1.1)(7,1.1)(7.7,1.1)(8.4,1.1)(9,1.1)(-3.5,.8)(-2.8,.8)(-2.1,.8)(-1.4,.8)(-.7,.85)(.3,.85)(4.6,.85)(5.3,.85)(6,.85)(6.7,.85)(7.4,.85)(8.1,.85)(8.8,.85)(-3.6,.55)(-2.9,.55)(-2.2,.55)(-1.5,.55)(-.8,.55)(0,.55)(4.6,.55)(5.3,.55)(6,.55)(6.7,.55)(7.4,.55)(8.1,.55)(8.8,.55)(9.4,.6)(9.6,.6)(-3.6,.3)(-2.9,.3)(-2.2,.3)(-1.5,.3)(-1,.3)(3.2,.3)(4,.3)(4.7,.3)(5.4,.3)(6.1,.3)(6.8,.3)(7.5,.3)(9.5,.35)(-4,.05)(-3.3,.05)(-2.6,.05)(-1.9,.05)(-1.2,.05)(-.5,.05)(.2,.05)(.9,.05)(1.6,.05)(2.5,.05)(3.2,.05)(3.9,.05)(4.6,.05)(5.3,.05)(6,.05)(6.7,.05)(7.5,.05)(8.5,0)(8.9,0)(-4,-.25)(-3.3,-.25)(-2.6,-.25)(-1.9,-.25)(-1.2,-.25)(-.5,-.25)(.2,-.25)(1,-.25)(1.8,-.3)(2.5,-.3)(3.2,-.3)(3.9,-.3)(4.6,-.3)(5.3,-.3)(5.9,-.3)(7.3,-.4)(-4,-.55)(-3.3,-.55)(-2.6,-.55)(-1.9,-.55)(-1.2,-.55)(-.5,-.55)(.2,-.55)(.9,-.55)(1.5,-.6)(2.2,-.6)(2.9,-.6)(3.6,-.6)(4.3,-.6)(5.2,-.6)(6,-.6)(-4,-.9)(-3.3,-.85)(-2.6,-.85)(-1.9,-.85)(-1.2,-.85)(-.5,-.85)(.2,-.85)(.9,-.85)(1.6,-.85)(2.3,-.85)(3,-.85)(3.5,-.9)(4.1,-.95)(-3.6,-1.15)(-2.9,-1.15)(-2.2,-1.15)(-1.5,-1.15)(-.8,-1.15)(-.1,-1.15)(.6,-1.15)(1.3,-1.15)(1.8,-1.3)(-3.2,-1.45)(-2.5,-1.45)(-1.8,-1.45)(-1.1,-1.45)(-.4,-1.45)(.3,-1.45)(1,-1.45)(-2.5,-1.75)(-1.8,-1.75)(-1.1,-1.75)(-.4,-1.75)(.3,-1.75)(1,-1.75)(-.7,-2)(0,-2)(.6,-2)(1,-2)(-.6,-2.25)(-.2,-2.25)(.4,-2.25)(.9,-2.25)};
\addplot[band] coordinates {(-4.66,-2.12)(3.6,1.05)(11.88,4.42)(11.88,4.18)(3.6,1.05)(-4.66,-2.28)};
\addplot[fit] coordinates {(-4.66,-2.2)(11.88,4.3)};
\end{axis}

% R4 v B
\begin{axis}[at={(315pt,25pt)},title={Correlacion R4 v/s B},xlabel={Punto B},ylabel={Resistor R4},
 xmin=-3.83,xmax=10.7,ymin=-2.68,ymax=6.27,xtick={0,5,10},xticklabels={0,5,10},ytick={-2,-1,0,1,2,3,4,5,6},yticklabels={−2,−1,0,1,2,3,4,5,6}]
\addplot[blob] coordinates {(-2,-.5)(-1.1,.5)(-.9,1.4)(-.2,2.2)(.3,3.6)(1,4.6)(1.5,5)(2.4,5.4)(4.8,5.4)(5.8,4.8)(6.6,4)(7.4,3.4)(7.8,2.4)(8.2,1.5)(8.9,.9)(9,-.5)(8.2,-1.1)(7.1,-1.5)(6.4,-1.15)(7,-.3)(7,.3)(6.8,.9)(6.5,2.1)(5.9,2.8)(5.4,3.7)(4.7,4.3)(3.6,4.1)(2.1,3.8)(1.6,3)(1.3,2.2)(.9,1.2)(.7,.35)(.4,.1)(1.9,.05)(2,-.4)(1.7,-1)(2.2,-1.3)(3.2,-1.45)(5.5,-1.3)(6.2,-1.4)(7.1,-1.5)(5.8,-1.9)(4.4,-2.1)(.4,-2.1)(-.7,-1.8)(-1.8,-1.3)(-2.1,-.9)};
\addplot[pts] coordinates {(2.6,5.75)(3.4,5.85)(4.6,5.75)(1.4,5.5)(2.4,5.5)(3,5.5)(3.6,5.5)(4.2,5.5)(4.8,5.5)(5.4,5.4)(6.5,5.4)(1.2,5.05)(1.8,5.15)(2.4,5.15)(3,5.15)(3.6,5.15)(4.2,5.15)(4.8,5.15)(5.4,5.05)(6,5.1)(6.4,5)(1.3,4.75)(1.9,4.8)(2.5,4.8)(3.1,4.75)(3.6,4.9)(4.5,4.75)(5.1,4.75)(5.7,4.75)(6.3,4.75)(6.8,4.7)(.4,4.35)(1,4.3)(1.6,4.45)(2.2,4.45)(2.9,4.35)(3.5,4.35)(4.9,4.4)(5.5,4.4)(6.1,4.4)(6.7,4.3)(7.7,4.2)(-.5,3.9)(.7,4.05)(1.3,4.05)(1.9,4)(2.8,4)(5.3,4)(5.9,4)(6.5,4)(7.1,4)(7.7,3.8)(.3,3.65)(.9,3.65)(1.5,3.65)(2.4,3.65)(5.6,3.65)(6.2,3.65)(6.8,3.65)(7.4,3.65)(8.3,3.5)(.3,3.4)(-.5,3.3)(.9,3.3)(1.5,3.3)(5.7,3.3)(6.3,3.3)(7,3.3)(7.6,3.3)(8,3.3)(.2,3)(.8,3)(1.4,3)(5.8,3)(6.4,3)(7,3)(7.6,3)(.1,2.65)(.7,2.65)(1.3,2.65)(6.2,2.65)(6.9,2.65)(7.5,2.65)(8.1,2.65)(-.3,2.35)(.3,2.35)(.9,2.35)(1.6,2.25)(6.6,2.3)(7.3,2.3)(7.9,2.3)(8.6,2.2)(-.3,2)(.3,2)(.9,2)(6.2,1.95)(7.5,2)(8.1,2)(8.3,1.8)(-1.3,1.75)(-.4,1.7)(.2,1.7)(.8,1.7)(7.1,1.65)(7.7,1.65)(8.3,1.65)(-1,1.4)(-.4,1.4)(.2,1.4)(.8,1.4)(7.1,1.35)(7.7,1.35)(8.3,1.35)(9.6,1.3)(-1.1,1.05)(-.5,1.05)(.1,1.05)(.7,1.05)(4.4,.95)(5.2,.95)(6.5,1.05)(7.1,1.05)(7.7,1.05)(8.3,1.05)(8.9,1.05)(-1.2,.7)(-.6,.7)(0,.7)(2.7,.75)(6.4,.7)(7,.7)(7.6,.7)(8.2,.7)(8.8,.7)(1.2,.5)(3.4,.55)(-1.9,.3)(-1.4,.35)(-.8,.35)(-.2,.35)(.4,.35)(7,.35)(7.6,.35)(8.2,.35)(8.8,.35)(9.5,.35)(10,.35)(-2.2,.05)(-1.5,.05)(-.9,.05)(-.3,.05)(.3,.05)(.9,.05)(1.5,.05)(2,.1)(2.6,-.1)(3.2,-.1)(3.8,-.1)(4.5,-.1)(6.5,-.05)(7.1,-.05)(7.7,-.05)(8.3,-.05)(8.9,-.05)(9.5,-.1)(-2.3,-.3)(-1.7,-.3)(-1.1,-.3)(-.5,-.3)(.1,-.3)(.7,-.3)(1.3,-.3)(1.9,-.25)(4.5,-.3)(7.1,-.35)(7.7,-.35)(8.3,-.35)(8.9,-.35)(-2.2,-.6)(-1.6,-.6)(-1,-.6)(-.4,-.6)(.2,-.6)(.8,-.6)(1.4,-.6)(4.5,-.55)(5.7,-.5)(6.3,-.5)(7,-.6)(7.6,-.6)(8.2,-.6)(8.8,-.6)(9.4,-.55)(-3,-.9)(-2,-.85)(-1.4,-.85)(-.8,-.85)(-.2,-.85)(.4,-.85)(1,-.85)(1.6,-.85)(5.6,-.75)(6.4,-.9)(7,-.9)(7.6,-.9)(8.2,-.9)(8.8,-.85)(-2.5,-1.15)(-1.9,-1.15)(-1.3,-1.15)(-.7,-1.15)(-.1,-1.15)(.5,-1.15)(1.1,-1.15)(1.7,-1.15)(3,-1.2)(4.4,-1.2)(5,-1.2)(5.6,-1.2)(6.2,-1.15)(6.8,-1.15)(7.4,-1.15)(8,-1.15)(-2.3,-1.4)(-1.7,-1.4)(-1.1,-1.4)(-.5,-1.4)(.1,-1.4)(.7,-1.4)(1.3,-1.4)(1.9,-1.4)(2.5,-1.45)(3.1,-1.45)(3.7,-1.4)(4.3,-1.4)(4.9,-1.4)(5.5,-1.4)(6.1,-1.4)(6.7,-1.4)(7.3,-1.4)(-1.3,-1.65)(-.7,-1.65)(-.1,-1.65)(.5,-1.65)(1.1,-1.65)(1.7,-1.65)(2.3,-1.65)(2.9,-1.65)(3.5,-1.65)(4.1,-1.65)(4.7,-1.65)(5.3,-1.65)(5.9,-1.65)(6.5,-1.65)(-.7,-1.9)(-.1,-1.9)(.5,-1.9)(1.1,-1.9)(1.7,-1.9)(2.3,-1.9)(2.9,-1.9)(3.5,-1.9)(4.1,-1.9)(4.7,-1.9)(5.3,-1.9)(5.9,-1.9)(-.3,-2.1)(.3,-2.1)(.9,-2.15)(1.5,-2.15)(2.1,-2.15)(2.7,-2.1)(3.3,-2.15)(3.9,-2.1)(4.5,-2.05)(.7,-2.3)(2,-2.3)(3.5,-2.3)};
\addplot[band] coordinates {(-3.83,-1.3)(3.4,.25)(10.7,2.15)(10.7,1.65)(3.4,.25)(-3.83,-1.5)};
\addplot[fit] coordinates {(-3.83,-1.4)(10.7,1.9)};
\end{axis}

% R4 v C
\begin{axis}[at={(456pt,25pt)},title={Correlacion R4 v/s C},xlabel={Punto C},ylabel={Resistor R4},
 xmin=-3.4,xmax=9.7,ymin=-2.68,ymax=6.27,xtick={0,5},xticklabels={0,5},ytick={-2,-1,0,1,2,3,4,5,6},yticklabels={−2,−1,0,1,2,3,4,5,6}]
\addplot[blob] coordinates {(-2.5,-.9)(-2.5,.2)(-2,.8)(-2,2)(-1.7,3)(-1.3,4.3)(-.6,5)(.2,5.4)(2.6,5.3)(3.2,4.7)(3.2,3.9)(4.3,3.4)(5,2.6)(5.5,1.8)(6,1.2)(7,.9)(7.7,.5)(8.2,.1)(8.8,-.4)(9.1,-.8)(8.7,-1.3)(8.5,-1.7)(7.8,-2)(6,-1.9)(6.2,-1.3)(6.6,-.8)(6.2,-.2)(5.2,.5)(5,1.2)(4.4,1.7)(3.7,2.5)(2.6,3.3)(2,3.9)(1.4,4.6)(.8,4.5)(-.2,4.6)(-.8,3.8)(-1.1,2.6)(-1.3,1.3)(-1.1,.5)(-.9,.15)(3.3,.15)(2.7,-.15)(1.9,-.3)(1.4,-.7)(1.7,-1.1)(1.9,-1.4)(2.5,-1.75)(6,-1.9)(5,-2.05)(-.6,-2.05)(-1.5,-1.7)(-2.2,-1.4)};
\addplot[pts] coordinates {(.7,5.85)(1.8,5.75)(-.2,5.55)(.3,5.5)(.8,5.5)(1.3,5.5)(1.8,5.45)(2.3,5.5)(2.7,5.45)(3.2,5.4)(-.8,5.2)(-.3,5.15)(.2,5.15)(.7,5.15)(1.2,5.15)(1.7,5.15)(2.2,5.15)(2.7,5.15)(3.4,5.05)(-.9,4.85)(-.4,4.85)(.1,4.85)(.6,4.85)(1.7,4.85)(2.2,4.85)(2.7,4.85)(3.3,4.85)(-1.2,4.55)(-.7,4.55)(.7,4.5)(1.9,4.55)(2.4,4.55)(2.9,4.55)(3.3,4.6)(-1.3,4.25)(-.8,4.25)(.1,4.05)(1.8,4.2)(2.5,4.25)(3,4.25)(4.4,4.15)(5.4,4.05)(-1.4,3.9)(-.8,3.9)(-.3,4)(2.1,3.9)(2.7,3.9)(3.3,3.9)(4.4,3.85)(5,3.75)(-1.7,3.55)(-1.2,3.55)(-.7,3.5)(2.3,3.5)(2.9,3.5)(3.5,3.5)(4.1,3.5)(4.7,3.5)(5.2,3.6)(-1.8,3.2)(-1.3,3.2)(2.6,3.2)(3.2,3.2)(3.8,3.2)(4.4,3.2)(5.4,3)(-1.9,2.85)(-1.4,2.85)(2.7,2.85)(3.3,2.85)(3.9,2.85)(4.5,2.85)(5,2.85)(5.6,2.75)(-1.9,2.5)(-1.4,2.5)(3.4,2.5)(4,2.5)(4.6,2.5)(5.2,2.5)(5.7,2.45)(-2.1,2.3)(-1.5,2.15)(-1,2.15)(3.8,2.15)(4.4,2.15)(5,2.15)(5.6,2.1)(-1.9,1.8)(-1.4,1.8)(4,1.85)(4.7,1.8)(5.3,1.8)(6.2,1.9)(7.5,1.75)(-2.1,1.5)(-1.6,1.5)(-1.2,1.5)(3.7,1.55)(4.6,1.45)(5.2,1.45)(5.8,1.45)(6.4,1.5)(7.2,1.45)(-2.1,1.15)(-1.6,1.15)(-.7,1)(1.5,.95)(3.6,.95)(4.6,1.1)(5.2,1.1)(5.8,1.1)(6.4,1.15)(7,1.1)(7.9,1.15)(8.4,1.1)(-2.3,.8)(-1.8,.8)(-1.3,.8)(-.7,.6)(.1,.75)(5,.75)(5.6,.75)(6.2,.75)(6.8,.75)(7.4,.75)(8,.85)(-2.7,.5)(-2.2,.5)(-1.7,.5)(-1.2,.5)(5.1,.5)(5.7,.5)(6.3,.5)(6.9,.5)(7.5,.5)(-2.6,.2)(-2.1,.2)(-1.6,.2)(-1.1,.2)(-.5,.2)(0,.2)(.5,.2)(1,.2)(1.5,.2)(2,.2)(2.5,.2)(3,.2)(3.4,.2)(6.1,.2)(6.7,.2)(7.3,.2)(7.9,.2)(8.2,.2)(-2.7,-.1)(-2.2,-.1)(-1.7,-.1)(-1.2,-.1)(-.7,-.1)(-.2,-.1)(.3,-.1)(.8,-.1)(1.3,-.1)(1.8,-.1)(2.3,-.1)(2.7,-.1)(3.9,-.1)(4.5,-.1)(5.2,-.1)(6.2,-.1)(6.8,-.1)(7.4,-.1)(8,-.1)(8.6,-.1)(-2.7,-.4)(-2.2,-.4)(-1.7,-.4)(-1.2,-.4)(-.7,-.4)(-.2,-.4)(.3,-.4)(.8,-.4)(1.3,-.4)(1.6,-.4)(2,-.35)(6,-.4)(6.6,-.4)(7.2,-.4)(7.8,-.4)(8.4,-.4)(8.9,-.4)(-2.7,-.7)(-2.2,-.7)(-1.7,-.7)(-1.2,-.7)(-.7,-.7)(-.2,-.7)(.3,-.7)(.8,-.7)(1.3,-.7)(6.3,-.7)(6.9,-.7)(7.5,-.7)(8.1,-.7)(8.7,-.7)(9.3,-.7)(-2.7,-1)(-2.2,-1)(-1.7,-1)(-1.2,-1)(-.7,-1)(-.2,-1)(.3,-1)(.8,-1)(1.3,-1)(1.7,-1)(6.5,-1)(7.1,-1)(7.7,-1)(8.3,-1)(8.9,-1)(9.2,-1.1)(-2.5,-1.3)(-2,-1.3)(-1.5,-1.3)(-1,-1.3)(-.5,-1.3)(0,-1.3)(.5,-1.3)(1,-1.3)(1.5,-1.3)(1.9,-1.3)(2.7,-1.2)(6.2,-1.3)(6.8,-1.3)(7.4,-1.3)(8,-1.3)(8.6,-1.3)(9,-1.4)(-2,-1.6)(-1.5,-1.6)(-1,-1.6)(-.5,-1.6)(0,-1.6)(.5,-1.6)(1,-1.6)(1.5,-1.6)(2,-1.6)(2.5,-1.6)(3.7,-1.5)(4.7,-1.45)(5.4,-1.55)(6,-1.6)(6.6,-1.6)(7.2,-1.6)(7.8,-1.6)(8.4,-1.6)(8.8,-1.6)(-1.2,-1.9)(-.7,-1.9)(-.2,-1.9)(.3,-1.9)(.8,-1.9)(1.3,-1.9)(1.8,-1.9)(2.3,-1.9)(2.8,-1.9)(3.3,-1.9)(3.8,-1.9)(4.3,-1.9)(4.8,-1.9)(5.3,-1.9)(5.8,-1.9)(6.3,-1.9)(6.8,-1.9)(7.3,-1.9)(7.8,-1.9)(8.2,-1.9)(-.6,-2.15)(-.1,-2.15)(.5,-2.15)(1,-2.3)(1.6,-2.15)(2.1,-2.15)(2.8,-2.3)(3.3,-2.15)(3.8,-2.2)(4.4,-2.15)(5.5,-2.2)(6.1,-2.1)};
\addplot[band] coordinates {(-3.4,.2)(3.1,-.2)(9.7,-.4)(9.7,-.6)(3.1,-.2)(-3.4,0)};
\addplot[fit] coordinates {(-3.4,.1)(9.7,-.5)};
\end{axis}

% R4 v D
\begin{axis}[at={(596.5pt,25pt)},title={Correlacion R4 v/s D},xlabel={Punto D},ylabel={Resistor R4},
 xmin=-2.87,xmax=15.16,ymin=-2.68,ymax=6.27,xtick={0,5,10,15},xticklabels={0,5,10,15},ytick={-2,-1,0,1,2,3,4,5,6},yticklabels={−2,−1,0,1,2,3,4,5,6}]
\addplot[blob] coordinates {(1.7,5.2)(1.5,5.3)(2,5.4)(3.8,5.4)(4,5)(3.9,4)(3.6,3)(3.4,1.9)(3,1)(2.8,.25)(5,.15)(2.8,-.2)(2.8,-.7)(7,-.8)(13.8,-.6)(14.3,-.7)(11,-.95)(8,-1.2)(4.5,-1.4)(2.8,-1.6)(1.5,-1.85)(1.1,-2.1)(-.8,-2.1)(-1.2,-1.9)(-.6,-1.2)(-.6,-.3)(-.2,.3)(.3,1)(.9,1.6)(1.3,2.4)(1.9,3)(2,4.6)};
\addplot[pts] coordinates {(3.9,5.85)(3.2,5.65)(3.8,5.55)(1.4,5.4)(2.1,5.35)(2.8,5.35)(3.5,5.35)(4,5.4)(1.5,5.1)(2.2,5.05)(2.9,5.05)(3.6,5.05)(4.1,5)(1.3,4.9)(2.2,4.75)(2.9,4.75)(3.6,4.75)(4,4.7)(1.9,4.45)(2.6,4.45)(3.3,4.45)(4.1,4.4)(1.5,4.1)(2.3,4.15)(3,4.15)(3.7,4.15)(2.4,3.85)(3.1,3.85)(3.7,3.85)(.7,3.5)(1.2,3.4)(2.2,3.55)(2.9,3.55)(3.6,3.55)(.7,3.1)(1.1,3.2)(2.3,3.25)(3,3.25)(3.6,3.25)(.8,2.9)(1.9,2.95)(2.6,2.95)(3.3,2.95)(3.7,2.9)(.7,2.7)(1.7,2.65)(2.4,2.65)(3.1,2.65)(3.7,2.5)(.7,2.35)(1.5,2.35)(2.2,2.35)(2.9,2.35)(1.4,2.05)(2.1,2.05)(2.8,2.05)(3.4,1.9)(.6,1.75)(1.3,1.75)(2,1.75)(2.7,1.75)(3.2,1.8)(.3,1.4)(1,1.45)(1.7,1.45)(2.4,1.45)(3,1.45)(.1,1)(.5,1.1)(1.2,1.15)(1.9,1.15)(2.6,1.15)(3,1.15)(-.1,.6)(.6,.85)(1.3,.85)(2,.85)(2.7,.85)(-.7,.5)(.3,.55)(1,.55)(1.7,.55)(2.4,.55)(2.9,.55)(-.9,.25)(-.2,.25)(.5,.25)(1.2,.25)(1.9,.25)(2.6,.25)(3.3,.2)(4,.2)(4.7,.2)(5.2,.2)(-1,-.05)(-.2,-.05)(.5,-.05)(1.2,-.05)(1.9,-.05)(2.6,-.05)(3.5,-.1)(4.3,-.05)(5.1,-.1)(-.8,-.35)(-.1,-.35)(.6,-.35)(1.3,-.35)(2,-.35)(2.7,-.35)(3.6,-.5)(5,-.35)(6.3,-.4)(8,-.35)(9,-.25)(10,-.25)(11,-.2)(12,-.35)(-.4,-.65)(.3,-.65)(1,-.65)(1.7,-.65)(2.4,-.65)(3.4,-.65)(4.1,-.65)(4.8,-.65)(5.5,-.65)(6.2,-.65)(6.9,-.65)(7.6,-.65)(8.3,-.6)(9,-.6)(9.7,-.6)(10.4,-.55)(11.1,-.55)(11.8,-.55)(12.5,-.5)(13.2,-.5)(13.9,-.5)(14.5,-.55)(-.2,-.9)(.5,-.9)(1.2,-.9)(1.9,-.9)(2.6,-.9)(3.3,-.9)(4,-.9)(4.7,-.9)(5.4,-.9)(6.1,-.9)(6.8,-.9)(7.5,-.85)(8.2,-.85)(8.9,-.85)(9.6,-.85)(10.3,-.8)(11,-.8)(11.7,-.75)(12.4,-.75)(13.1,-.7)(13.8,-.7)(14.4,-.85)(-1.7,-1.05)(-1.3,-1.2)(-.4,-1.15)(.3,-1.15)(1,-1.15)(1.7,-1.15)(2.4,-1.15)(3.1,-1.15)(3.8,-1.15)(4.5,-1.15)(5.2,-1.15)(5.9,-1.1)(6.6,-1.1)(7.3,-1.1)(8,-1.1)(8.7,-1.05)(9.4,-1.05)(10.1,-1)(10.8,-1.05)(11.7,-1)(-.5,-1.4)(.2,-1.4)(.9,-1.4)(1.6,-1.4)(2.3,-1.4)(3,-1.4)(3.7,-1.35)(4.4,-1.35)(5.1,-1.35)(5.8,-1.3)(6.5,-1.35)(7.2,-1.3)(8,-1.3)(8.8,-1.3)(9.5,-1.3)(11.4,-1.35)(-.9,-1.6)(-.2,-1.65)(.5,-1.65)(1.2,-1.65)(1.9,-1.65)(2.6,-1.6)(3.3,-1.55)(4.1,-1.6)(5.4,-1.6)(9.1,-1.55)(11.4,-1.5)(-2,-1.8)(-1.3,-1.85)(-.6,-1.9)(.1,-1.9)(.8,-1.9)(1.5,-1.85)(-1.4,-2.05)(-.9,-2.1)(-.2,-2.1)(.5,-2.1)(1.2,-2.05)(-.7,-2.3)(.1,-2.3)};
\addplot[band] coordinates {(-2.87,-.2)(6,-.02)(15.16,.37)(15.16,.17)(6,-.02)(-2.87,-.4)};
\addplot[fit] coordinates {(-2.87,-.3)(15.16,.27)};
\end{axis}
\end{tikzpicture}
\end{document}
